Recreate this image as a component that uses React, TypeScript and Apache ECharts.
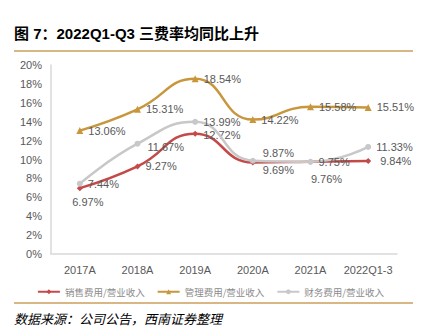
import React, { useEffect, useRef } from "react";
import * as echarts from "echarts";

const categories = ["2017A", "2018A", "2019A", "2020A", "2021A", "2022Q1-3"];
const salesRate = [6.97, 9.27, 12.72, 9.69, 9.76, 9.84];
const mgmtRate = [13.06, 15.31, 18.54, 14.22, 15.58, 15.51];
const finRate = [7.44, 11.67, 13.99, 9.87, 9.75, 11.33];
const seriesNames = ["销售费用/营业收入", "管理费用/营业收入", "财务费用/营业收入"];

const salesLabelPos: any[] = [
  { position: "bottom", offset: [8, 0] },
  { position: "right" },
  { position: "right", offset: [0, 1] },
  { position: "right", offset: [2, 8] },
  { position: "bottom", offset: [16, 4] },
  { position: "right", offset: [4, 0] },
];
const finLabelPos: any[] = [
  { position: "right" },
  { position: "right", offset: [2, 3] },
  { position: "right" },
  { position: "right", offset: [2, -8] },
  { position: "right" },
  { position: "right" },
];

export default function App() {
  const ref = useRef<HTMLDivElement>(null);
  useEffect(() => {
    if (!ref.current) return;
    const chart = echarts.init(ref.current, null, { renderer: "svg" });
    const labelStyle = {
      show: true,
      color: "#595959",
      fontSize: 11,
      fontFamily: "Liberation Sans, Arial, sans-serif",
      formatter: (p: any) => p.value.toFixed(2) + "%",
    };
    chart.setOption({
      animation: false,
      backgroundColor: "#ffffff",
      grid: { left: 51, right: 24, top: 65, bottom: 77 },
      legend: {
        top: 282,
        left: "center",
        itemWidth: 22,
        itemHeight: 6,
        itemGap: 12,
        textStyle: {
          color: "#8c8c8c",
          fontSize: 9.5,
          fontFamily: "Noto Sans CJK SC",
        },
        data: seriesNames,
      },
      xAxis: {
        type: "category",
        data: categories,
        axisLine: { lineStyle: { color: "#d9d9d9", width: 1.5 } },
        axisTick: { show: false },
        axisLabel: {
          color: "#595959",
          fontSize: 11,
          margin: 10,
          interval: 0,
          fontFamily: "Liberation Sans, Arial, sans-serif",
        },
      },
      yAxis: {
        type: "value",
        min: 0,
        max: 20,
        interval: 2,
        axisLine: { show: true, lineStyle: { color: "#d9d9d9", width: 1.5 } },
        axisTick: { show: false },
        splitLine: { show: false },
        axisLabel: {
          color: "#595959",
          fontSize: 11,
          margin: 9,
          formatter: "{value}%",
          fontFamily: "Liberation Sans, Arial, sans-serif",
        },
      },
      graphic: [
        {
          type: "text",
          left: 14,
          top: 26,
          style: {
            text: "图 7：2022Q1-Q3 三费率均同比上升",
            fontSize: 15,
            fontWeight: "bold",
            fill: "#000000",
            fontFamily: "Liberation Sans, Noto Sans CJK SC, sans-serif",
          },
        },
        {
          type: "rect",
          shape: { x: 14, y: 50, width: 399, height: 2 },
          style: { fill: "#d9b784" },
        },
        {
          type: "rect",
          shape: { x: 14, y: 302, width: 399, height: 2 },
          style: { fill: "#d9b784" },
        },
        {
          type: "text",
          left: 14,
          top: 312,
          style: {
            text: "数据来源：公司公告，西南证券整理",
            fontSize: 13,
            fontStyle: "italic",
            fill: "#000000",
            fontFamily: "Noto Sans CJK SC",
          },
        },
      ],
      series: [
        {
          name: seriesNames[0],
          type: "line",
          smooth: 0.5,
          data: salesRate.map((v, i) => ({ value: v, label: salesLabelPos[i] })),
          symbol: "diamond",
          symbolSize: 6,
          lineStyle: { color: "#c44a4a", width: 2.5 },
          itemStyle: { color: "#c44a4a" },
          label: labelStyle,
          z: 3,
        },
        {
          name: seriesNames[1],
          type: "line",
          smooth: 0.5,
          data: mgmtRate,
          symbol: "triangle",
          symbolSize: 7,
          lineStyle: { color: "#c8963c", width: 2.5 },
          itemStyle: { color: "#c8963c" },
          label: { ...labelStyle, position: "right" },
          z: 2,
        },
        {
          name: seriesNames[2],
          type: "line",
          smooth: 0.5,
          data: finRate.map((v, i) => ({ value: v, label: finLabelPos[i] })),
          symbol: "circle",
          symbolSize: 6,
          lineStyle: { color: "#c8c8c8", width: 2.5 },
          itemStyle: { color: "#c8c8c8" },
          label: labelStyle,
          z: 4,
        },
      ],
    });
    return () => chart.dispose();
  }, []);
  return <div ref={ref} style={{ width: 421, height: 331, position: "absolute", left: 0, top: 0 }} />;
}
